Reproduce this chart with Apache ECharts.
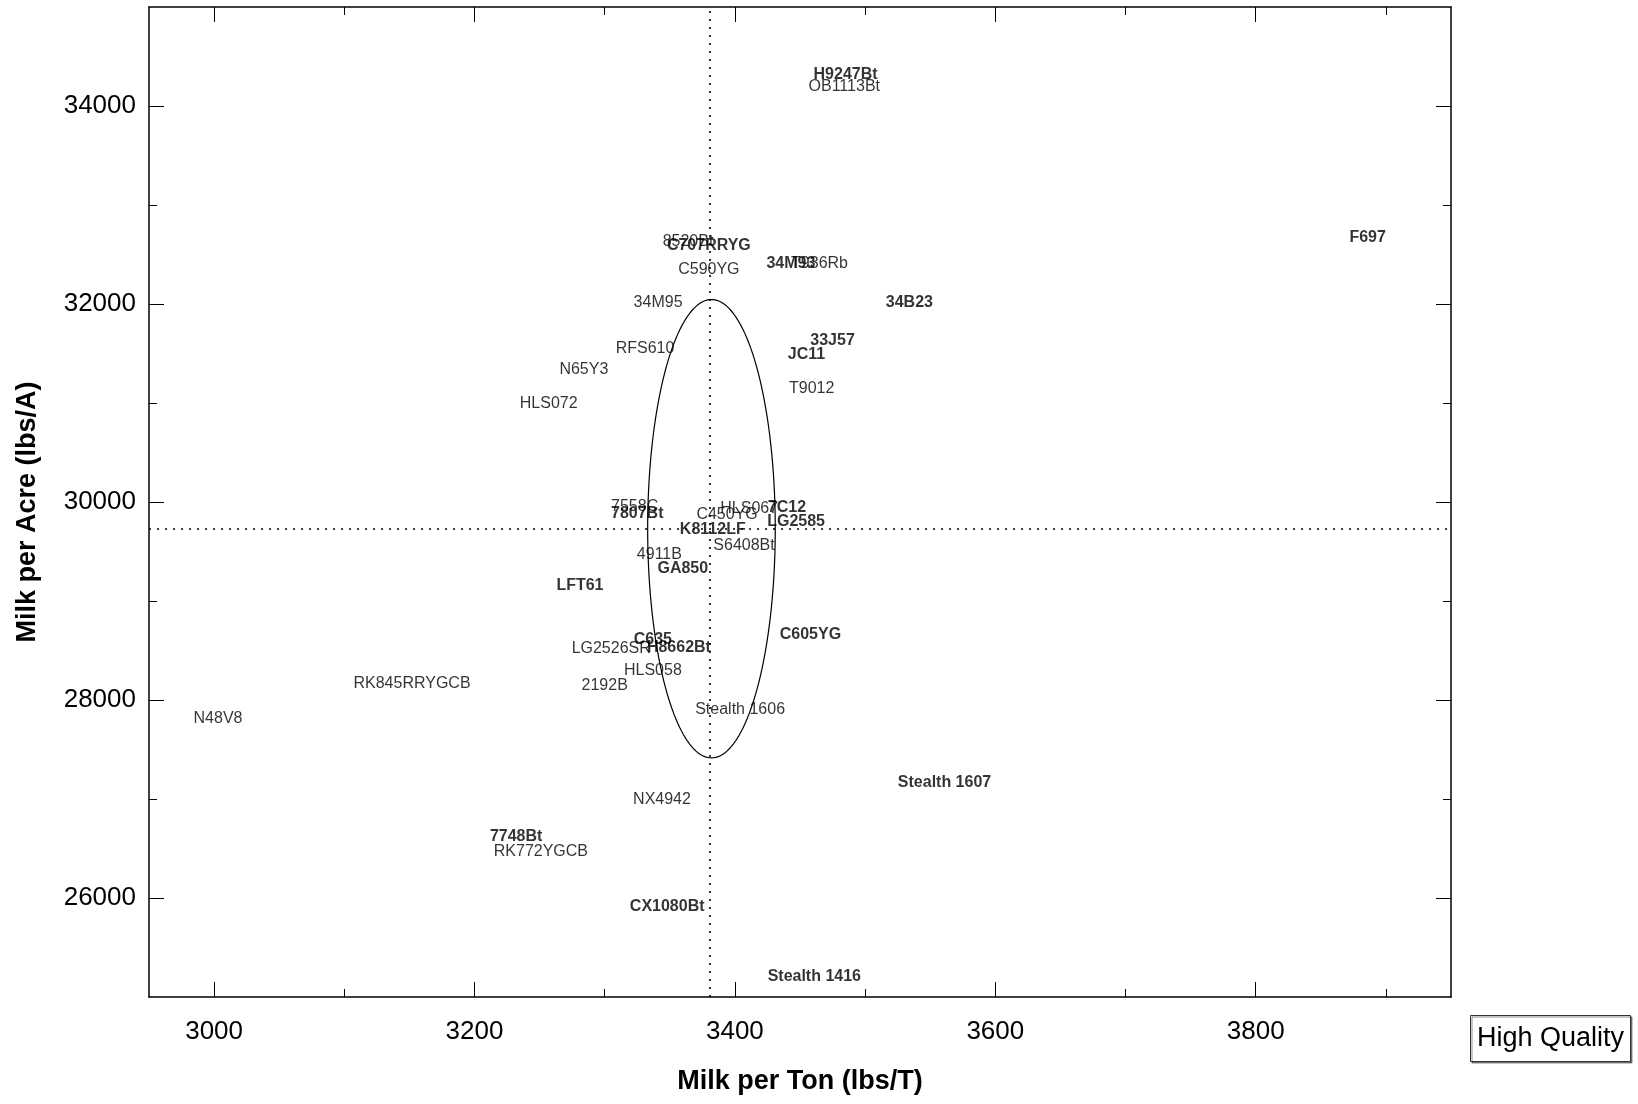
<!DOCTYPE html>
<html>
<head>
<meta charset="utf-8">
<title>Milk per Ton vs Milk per Acre</title>
<script src="https://cdn.jsdelivr.net/npm/echarts@6/dist/echarts.min.js"></script>
<style>
  html, body { margin: 0; padding: 0; background: #fff; }
  #chart { width: 1638px; height: 1104px; }
</style>
</head>
<body>
<div id="chart"></div>
<script>
// hybrid labels
const hybridNames = [
  "H9247Bt", "OB1113Bt", "F697", "8520Bt", "C707RRYG", "C590YG", "34M93", "T936Rb",
  "34B23", "34M95", "33J57", "JC11", "RFS610", "N65Y3", "T9012", "HLS072",
  "7558C", "7807Bt", "C450YG", "HLS067", "7C12", "LG2585", "K8112LF", "S6408Bt",
  "4911B", "GA850", "LFT61", "C635", "LG2526SR", "H8662Bt", "C605YG", "HLS058",
  "RK845RRYGCB", "2192B", "N48V8", "Stealth 1606", "Stealth 1607", "NX4942",
  "7748Bt", "RK772YGCB", "CX1080Bt", "Stealth 1416"
];
const milkPerTon = [
  3485, 3484, 3886, 3364, 3380, 3380, 3443, 3465,
  3534, 3341, 3475, 3455, 3331, 3284, 3459, 3257,
  3323, 3325, 3394, 3411, 3440, 3447, 3383, 3407,
  3342, 3360, 3281, 3337, 3305, 3357, 3458, 3337,
  3152, 3300, 3003, 3404, 3561, 3344,
  3232, 3251, 3348, 3461
];
const milkPerAcre = [
  34318, 34191, 32669, 32627, 32585, 32352, 32405, 32405,
  32014, 32014, 31633, 31485, 31549, 31337, 31147, 30999,
  29952, 29878, 29868, 29931, 29942, 29804, 29720, 29561,
  29466, 29329, 29160, 28610, 28515, 28525, 28663, 28293,
  28166, 28145, 27817, 27902, 27162, 26993,
  26623, 26464, 25914, 25206
];
const boldHybrids = [
  "H9247Bt", "F697", "C707RRYG", "34M93", "34B23", "33J57", "JC11", "7807Bt",
  "7C12", "LG2585", "K8112LF", "GA850", "LFT61", "C635", "H8662Bt", "C605YG",
  "Stealth 1607", "7748Bt", "CX1080Bt", "Stealth 1416"
];

// means and the ellipse (center x, center y, radius x, radius y)
const meanTon = 3381;
const meanAcre = 29730;
const ellipse = [3382, 29730, 49, 2315];

const xMajor = [3000, 3200, 3400, 3600, 3800];
const xMinor = [3100, 3300, 3500, 3700, 3900];
const yMajor = [26000, 28000, 30000, 32000, 34000];
const yMinor = [27000, 29000, 31000, 33000];

const FONT = "Liberation Sans, Arial, sans-serif";

const chart = echarts.init(document.getElementById("chart"));

const regularData = [];
const boldData = [];
hybridNames.forEach((name, i) => {
  const item = { name: name, value: [milkPerTon[i], milkPerAcre[i]] };
  if (boldHybrids.includes(name)) boldData.push(item);
  else regularData.push(item);
});

const lineStyle = { color: "#000", width: 1.5 };

const makeX = (position, ticks, len, showLine, withLabels) => ({
  type: "value",
  position: position,
  min: 2950,
  max: 3950,
  interval: 50,
  splitLine: { show: false },
  axisLine: { show: showLine, onZero: false, lineStyle: lineStyle },
  axisTick: { show: true, inside: true, length: len, customValues: ticks, lineStyle: { color: "#000", width: 1 } },
  axisLabel: withLabels
    ? { show: true, customValues: xMajor, margin: 22, fontSize: 26, color: "#000", fontFamily: FONT, formatter: (v) => String(v) }
    : { show: false },
  name: withLabels ? "Milk per Ton (lbs/T)" : "",
  nameLocation: "middle",
  nameGap: 71,
  nameTextStyle: { fontSize: 27, fontWeight: "bold", color: "#000", fontFamily: FONT }
});

const makeY = (position, ticks, len, showLine, withLabels) => ({
  type: "value",
  position: position,
  min: 25000,
  max: 35000,
  interval: 1000,
  splitLine: { show: false },
  axisLine: { show: showLine, onZero: false, lineStyle: lineStyle },
  axisTick: { show: true, inside: true, length: len, customValues: ticks, lineStyle: { color: "#000", width: 1 } },
  axisLabel: withLabels
    ? { show: true, customValues: yMajor, margin: 13, fontSize: 26, color: "#000", fontFamily: FONT, formatter: (v) => String(v) }
    : { show: false }
});

const labelSeries = (data, weight) => ({
  type: "scatter",
  data: data,
  symbolSize: 1,
  itemStyle: { color: "rgba(0,0,0,0)" },
  silent: true,
  label: {
    show: true,
    position: "inside",
    formatter: (p) => p.name,
    fontSize: 16,
    fontWeight: weight,
    color: "#000",
    fontFamily: FONT
  },
  z: 5
});

const option = {
  animation: false,
  backgroundColor: "#fff",
  grid: { left: 149, right: 187, top: 7, bottom: 107 },
  xAxis: [
    makeX("bottom", xMajor, 15, true, true),
    makeX("bottom", xMinor, 8, false, false),
    makeX("top", xMajor, 15, true, false),
    makeX("top", xMinor, 8, false, false)
  ],
  yAxis: [
    makeY("left", yMajor, 15, true, true),
    makeY("left", yMinor, 8, false, false),
    makeY("right", yMajor, 15, true, false),
    makeY("right", yMinor, 8, false, false)
  ],
  series: [
    {
      type: "custom",
      silent: true,
      data: [ellipse],
      renderItem: function (params, api) {
        const cx = api.value(0), cy = api.value(1), rx = api.value(2), ry = api.value(3);
        const pts = [];
        for (let k = 0; k <= 180; k++) {
          const a = (k / 180) * Math.PI * 2;
          pts.push(api.coord([cx + rx * Math.cos(a), cy + ry * Math.sin(a)]));
        }
        return {
          type: "polyline",
          shape: { points: pts },
          style: { stroke: "#000", lineWidth: 1.2, fill: null }
        };
      },
      markLine: {
        silent: true,
        symbol: "none",
        label: { show: false },
        lineStyle: { color: "#000", width: 1.6, type: [2, 6] },
        data: [{ xAxis: meanTon }, { yAxis: meanAcre }]
      },
      z: 3
    },
    labelSeries(regularData, "normal"),
    labelSeries(boldData, "bold")
  ],
  graphic: [
    {
      type: "text",
      x: 28,
      y: 512,
      rotation: Math.PI / 2,
      style: { text: "Milk per Acre (lbs/A)", fontSize: 27, fontWeight: "bold", fontFamily: FONT, fill: "#000", align: "center", verticalAlign: "middle" }
    },
    {
      type: "group",
      left: 1470,
      top: 1015,
      children: [
        {
          type: "rect",
          shape: { x: 0, y: 0, width: 160, height: 46 },
          style: { fill: "#fff", stroke: "#333", lineWidth: 1, shadowColor: "rgba(0,0,0,0.45)", shadowOffsetX: 1.5, shadowOffsetY: 1.5 }
        },
        {
          type: "text",
          x: 80,
          y: 23,
          style: { text: "High Quality", fontSize: 27, fontFamily: FONT, fill: "#000", align: "center", verticalAlign: "middle" }
        }
      ]
    }
  ]
};

chart.setOption(option);
</script>
</body>
</html>
